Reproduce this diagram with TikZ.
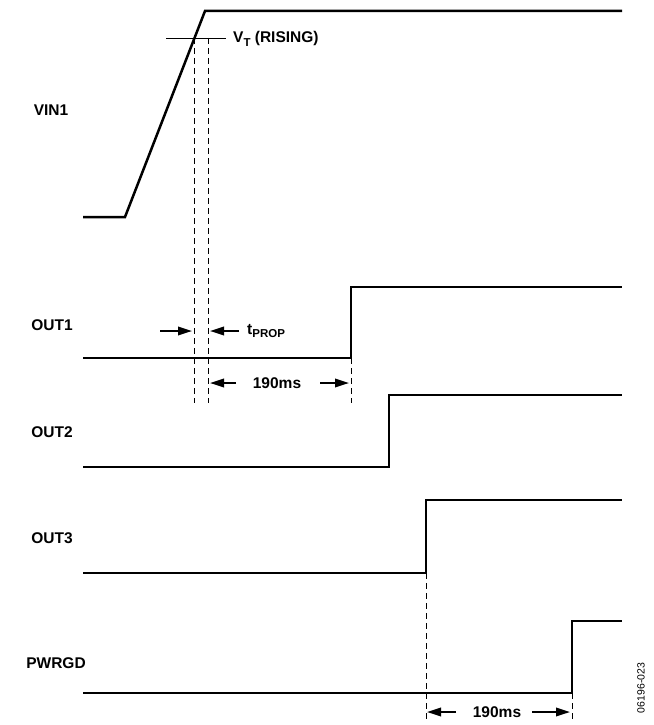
\documentclass[tikz,border=0pt]{standalone}
\usepackage{fontspec}
\setmainfont{Liberation Sans}
\usetikzlibrary{arrows.meta}
\newcommand{\mysub}[1]{\raisebox{-3.5pt}{\fontsize{11.5}{12}\selectfont #1}}
\begin{document}
\begin{tikzpicture}[x=1pt,y=-1pt,
  sig/.style={line width=2.5pt,line join=miter},
  thin/.style={line width=0.9pt},
  dsh/.style={line width=0.9pt,dash pattern=on 6pt off 4pt},
  arr/.style={line width=1.9pt,-{Triangle[length=14pt,width=8.5pt]}},
  lbl/.style={font=\fontsize{15.5}{17}\selectfont\bfseries,inner sep=0pt},
  txt/.style={font=\fontsize{15.5}{17}\selectfont\bfseries,inner sep=0pt,anchor=west}]
\useasboundingbox (0,0) rectangle (653,725);
% waveform coordinates
\coordinate (v0) at (83,217); \coordinate (v1) at (125,217); \coordinate (v2) at (205,11); \coordinate (v3) at (622,11);
\coordinate (o1a) at (83,358); \coordinate (o1b) at (351,358); \coordinate (o1c) at (351,287); \coordinate (o1d) at (622,287);
\coordinate (o2a) at (83,467); \coordinate (o2b) at (389,467); \coordinate (o2c) at (389,395); \coordinate (o2d) at (622,395);
\coordinate (o3a) at (83,573); \coordinate (o3b) at (426,573); \coordinate (o3c) at (426,500); \coordinate (o3d) at (622,500);
\coordinate (pga) at (83,693); \coordinate (pgb) at (572,693); \coordinate (pgc) at (572,621); \coordinate (pgd) at (622,621);
% signals
\draw[sig] (v0) -- (v1) -- (v2) -- (v3);
\draw[sig] (o1a) -- (o1b) -- (o1c) -- (o1d);
\draw[sig] (o2a) -- (o2b) -- (o2c) -- (o2d);
\draw[sig] (o3a) -- (o3b) -- (o3c) -- (o3d);
\draw[sig] (pga) -- (pgb) -- (pgc) -- (pgd);
% threshold
\coordinate (vtl) at (166,38); \coordinate (vtr) at (226,38);
\draw[thin] (vtl) -- (vtr);
\node[txt] (vt) at (233,39) {V\mysub{T} (RISING)};
% dashed guides
\coordinate (d1t) at (194,38); \coordinate (d1b) at (194,403);
\coordinate (d2t) at (208,38); \coordinate (d2b) at (208,403);
\coordinate (d3b) at (351,403);
\coordinate (d4b) at (426,722);
\coordinate (d5b) at (572,722);
\draw[dsh] (d1t) -- (d1b);
\draw[dsh] (d2t) -- (d2b);
\draw[dsh] (o1b) -- (d3b);
\draw[dsh] (o3b) -- (d4b);
\draw[dsh] (pgb) -- (d5b);
% tprop arrows
\coordinate (ta1) at (160,331); \coordinate (ta2) at (192,331);
\coordinate (tb1) at (239,331); \coordinate (tb2) at (210,331);
\draw[arr] (ta1) -- (ta2);
\draw[arr] (tb1) -- (tb2);
\node[txt] (tp) at (247,331) {t\mysub{PROP}};
% 190ms top
\coordinate (ma1) at (236,383); \coordinate (ma2) at (210,383);
\coordinate (mb1) at (320,383); \coordinate (mb2) at (349,383);
\draw[arr] (ma1) -- (ma2);
\draw[arr] (mb1) -- (mb2);
\node[lbl] (m1) at (277,383) {190ms};
% 190ms bottom
\coordinate (na1) at (456,712); \coordinate (na2) at (427,712);
\coordinate (nb1) at (532,712); \coordinate (nb2) at (570,712);
\draw[arr] (na1) -- (na2);
\draw[arr] (nb1) -- (nb2);
\node[lbl] (m2) at (497,712) {190ms};
% signal labels
\node[lbl] (lv) at (51,110) {VIN1};
\node[lbl] (l1) at (52,325) {OUT1};
\node[lbl] (l2) at (52,432) {OUT2};
\node[lbl] (l3) at (52,538) {OUT3};
\node[lbl] (l4) at (56,663) {PWRGD};
% figure code
\node[font=\fontsize{10.5}{11}\selectfont,inner sep=0pt,rotate=90] (code) at (641,688) {06196-023};
\end{tikzpicture}
\end{document}
